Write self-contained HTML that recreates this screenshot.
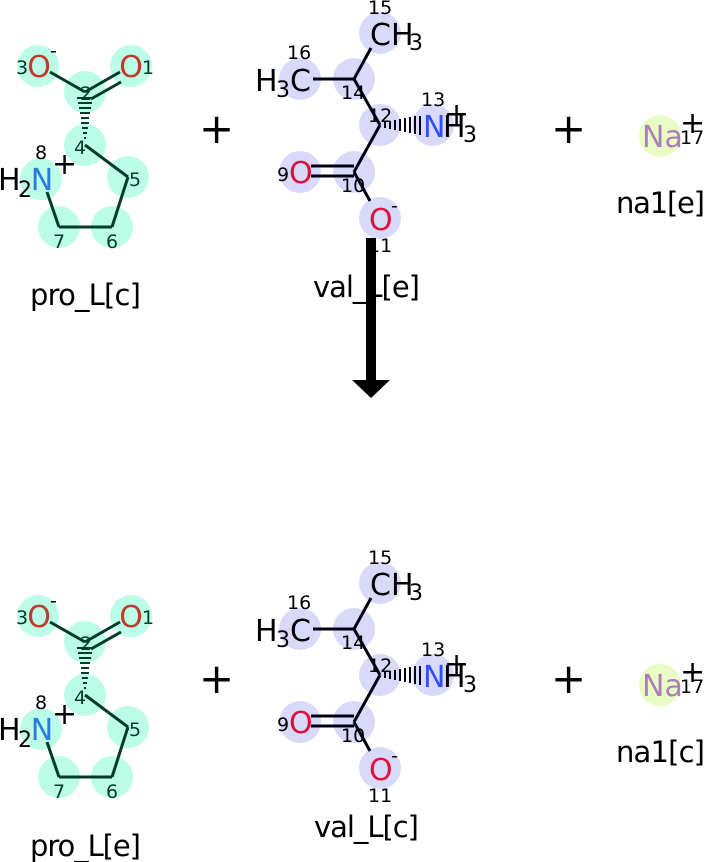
<!DOCTYPE html>
<html><head><meta charset="utf-8"><style>
html,body{margin:0;padding:0;background:#fff;width:704px;height:862px;overflow:hidden}
svg text{font-family:"DejaVu Sans","Liberation Sans",sans-serif}
.a{font-size:30px}.n{font-size:19px}.l{font-size:29px}.s{font-size:22px}
</style></head><body>
<svg width="704" height="862" viewBox="0 0 704 862" xmlns="http://www.w3.org/2000/svg">

<g id="top">
<g fill="#bbfde6">
<circle cx="38" cy="66" r="21"/><circle cx="131" cy="66" r="21"/><circle cx="85" cy="92" r="21"/><circle cx="85" cy="145" r="21"/><circle cx="41" cy="179" r="21"/><circle cx="128" cy="177" r="21"/><circle cx="59" cy="227" r="21"/><circle cx="112" cy="227" r="21"/>
</g>
<g stroke="#003c28" stroke-width="3" fill="none">
<line x1="50" y1="72" x2="85" y2="92"/>
<line x1="85" y1="92" x2="120" y2="72"/>
<line x1="91" y1="99" x2="121" y2="82"/>
<line x1="85" y1="145" x2="128" y2="177"/>
<line x1="128" y1="177" x2="112" y2="227"/>
<line x1="112" y1="227" x2="59" y2="227"/>
<line x1="59" y1="227" x2="47" y2="192"/>
</g>
<g stroke="#003c28" stroke-width="2">
<line x1="77" y1="98" x2="93" y2="98"/><line x1="78" y1="103" x2="92" y2="103"/><line x1="79" y1="108" x2="91" y2="108"/><line x1="80" y1="113" x2="90" y2="113"/><line x1="81" y1="118" x2="89" y2="118"/><line x1="81" y1="123" x2="89" y2="123"/><line x1="82" y1="128" x2="88" y2="128"/><line x1="83" y1="133" x2="87" y2="133"/><line x1="84" y1="138" x2="86" y2="138"/>
</g>
<text class="a" font-size="30" x="39" y="77" text-anchor="middle" fill="#c0392b">O</text><text class="n" font-size="19" x="16" y="74" fill="#003c28">3</text><text class="n" font-size="19" x="50" y="57" fill="#000">-</text>
<text class="a" font-size="30" x="131" y="77" text-anchor="middle" fill="#c0392b">O</text><text class="n" font-size="19" x="142" y="74" fill="#003c28">1</text>
<text class="n" font-size="19" x="80" y="100" fill="#003c28">2</text><text class="n" font-size="19" x="74" y="154" fill="#003c28">4</text>
<text class="a" font-size="30" x="42" y="190" text-anchor="middle" fill="#2a7ae2">N</text><text class="a" font-size="30" x="-2" y="190">H</text><text class="s" font-size="22" x="18" y="197">2</text><text class="n" font-size="19" x="35" y="159">8</text><text class="a" font-size="30" x="52" y="174">+</text>
<text class="n" font-size="19" x="129" y="186" fill="#003c28">5</text><text class="n" font-size="19" x="53" y="248" fill="#003c28">7</text><text class="n" font-size="19" x="106" y="248" fill="#003c28">6</text>
<text class="l" font-size="29" x="30" y="305" textLength="111">pro_L[c]</text>

<g fill="#d9daf9">
<circle cx="380" cy="33" r="21"/><circle cx="300" cy="79" r="21"/><circle cx="354" cy="79" r="21"/><circle cx="380" cy="125" r="21"/><circle cx="433" cy="125" r="21"/><circle cx="300" cy="172" r="21"/><circle cx="354" cy="172" r="21"/><circle cx="380" cy="218" r="21"/>
</g>
<g stroke="#000014" stroke-width="3" fill="none">
<line x1="371" y1="48" x2="354" y2="79"/>
<line x1="313" y1="79" x2="354" y2="79"/>
<line x1="354" y1="79" x2="380" y2="125"/>
<line x1="380" y1="125" x2="354" y2="172"/>
<line x1="311" y1="166" x2="354" y2="166"/><line x1="311" y1="176" x2="354" y2="176"/>
<line x1="354" y1="172" x2="370" y2="201"/>
</g>
<g stroke="#000014" stroke-width="2">
<line x1="385" y1="122" x2="385" y2="128"/><line x1="390" y1="121" x2="390" y2="129"/><line x1="395" y1="120" x2="395" y2="130"/><line x1="400" y1="119" x2="400" y2="131"/><line x1="405" y1="118" x2="405" y2="132"/><line x1="410" y1="117" x2="410" y2="133"/><line x1="415" y1="116" x2="415" y2="134"/><line x1="420" y1="116" x2="420" y2="135"/>
</g>
<text class="a" font-size="30" x="370" y="45">CH</text><text class="s" font-size="22" x="409" y="50">3</text><text class="n" font-size="19" x="368" y="14">15</text>
<text class="a" font-size="30" x="255" y="91">H</text><text class="s" font-size="22" x="276" y="97">3</text><text class="a" font-size="30" x="290" y="91">C</text><text class="n" font-size="19" x="287" y="59">16</text>
<text class="n" font-size="19" x="341" y="99">14</text><text class="n" font-size="19" x="368" y="122">12</text>
<text class="a" font-size="30" x="423" y="137" fill="#3050f8">N</text><text class="a" font-size="30" x="443" y="137">H</text><text class="s" font-size="22" x="463" y="142">3</text><text class="n" font-size="19" x="421" y="106">13</text><text class="a" font-size="30" x="444" y="124">+</text>
<text class="a" font-size="30" x="289" y="183" fill="#e0103c">O</text><text class="n" font-size="19" x="277" y="181">9</text><text class="n" font-size="19" x="341" y="192">10</text>
<text class="a" font-size="30" x="369" y="230" fill="#e0103c">O</text><text class="n" font-size="19" x="391" y="212">-</text><text class="n" font-size="19" x="368" y="252">11</text>
<text class="l" font-size="29" x="313" y="297" textLength="107">val_L[e]</text>

<circle cx="660" cy="136" r="21" fill="#eafcc6"/>
<text class="a" font-size="30" x="642" y="147" fill="#ab7fb8">Na</text><text class="n" font-size="19" x="680" y="144">17</text><text class="a" font-size="30" x="680" y="133">+</text>
<text class="l" font-size="29" x="616" y="213" textLength="89">na1[e]</text>

<text x="199" y="143" font-size="42">+</text>
<text x="551" y="143" font-size="42">+</text>
</g>

<rect x="366" y="238" width="10" height="144" fill="#000"/>
<polygon points="352,380 390,380 371,398" fill="#000"/>

<g transform="translate(0,550)">
<g fill="#bbfde6">
<circle cx="38" cy="66" r="21"/><circle cx="131" cy="66" r="21"/><circle cx="85" cy="92" r="21"/><circle cx="85" cy="145" r="21"/><circle cx="41" cy="179" r="21"/><circle cx="128" cy="177" r="21"/><circle cx="59" cy="227" r="21"/><circle cx="112" cy="227" r="21"/>
</g>
<g stroke="#003c28" stroke-width="3" fill="none">
<line x1="50" y1="72" x2="85" y2="92"/>
<line x1="85" y1="92" x2="120" y2="72"/>
<line x1="91" y1="99" x2="121" y2="82"/>
<line x1="85" y1="145" x2="128" y2="177"/>
<line x1="128" y1="177" x2="112" y2="227"/>
<line x1="112" y1="227" x2="59" y2="227"/>
<line x1="59" y1="227" x2="47" y2="192"/>
</g>
<g stroke="#003c28" stroke-width="2">
<line x1="77" y1="98" x2="93" y2="98"/><line x1="78" y1="103" x2="92" y2="103"/><line x1="79" y1="108" x2="91" y2="108"/><line x1="80" y1="113" x2="90" y2="113"/><line x1="81" y1="118" x2="89" y2="118"/><line x1="81" y1="123" x2="89" y2="123"/><line x1="82" y1="128" x2="88" y2="128"/><line x1="83" y1="133" x2="87" y2="133"/><line x1="84" y1="138" x2="86" y2="138"/>
</g>
<text class="a" font-size="30" x="39" y="77" text-anchor="middle" fill="#c0392b">O</text><text class="n" font-size="19" x="16" y="74" fill="#003c28">3</text><text class="n" font-size="19" x="50" y="57" fill="#000">-</text>
<text class="a" font-size="30" x="131" y="77" text-anchor="middle" fill="#c0392b">O</text><text class="n" font-size="19" x="142" y="74" fill="#003c28">1</text>
<text class="n" font-size="19" x="80" y="100" fill="#003c28">2</text><text class="n" font-size="19" x="74" y="154" fill="#003c28">4</text>
<text class="a" font-size="30" x="42" y="190" text-anchor="middle" fill="#2a7ae2">N</text><text class="a" font-size="30" x="-2" y="190">H</text><text class="s" font-size="22" x="18" y="197">2</text><text class="n" font-size="19" x="35" y="159">8</text><text class="a" font-size="30" x="52" y="174">+</text>
<text class="n" font-size="19" x="129" y="186" fill="#003c28">5</text><text class="n" font-size="19" x="53" y="248" fill="#003c28">7</text><text class="n" font-size="19" x="106" y="248" fill="#003c28">6</text>
<text class="l" font-size="29" x="30" y="306" textLength="111">pro_L[e]</text>

<g fill="#d9daf9">
<circle cx="380" cy="33" r="21"/><circle cx="300" cy="79" r="21"/><circle cx="354" cy="79" r="21"/><circle cx="380" cy="125" r="21"/><circle cx="433" cy="125" r="21"/><circle cx="300" cy="172" r="21"/><circle cx="354" cy="172" r="21"/><circle cx="380" cy="218" r="21"/>
</g>
<g stroke="#000014" stroke-width="3" fill="none">
<line x1="371" y1="48" x2="354" y2="79"/>
<line x1="313" y1="79" x2="354" y2="79"/>
<line x1="354" y1="79" x2="380" y2="125"/>
<line x1="380" y1="125" x2="354" y2="172"/>
<line x1="311" y1="166" x2="354" y2="166"/><line x1="311" y1="176" x2="354" y2="176"/>
<line x1="354" y1="172" x2="370" y2="201"/>
</g>
<g stroke="#000014" stroke-width="2">
<line x1="385" y1="122" x2="385" y2="128"/><line x1="390" y1="121" x2="390" y2="129"/><line x1="395" y1="120" x2="395" y2="130"/><line x1="400" y1="119" x2="400" y2="131"/><line x1="405" y1="118" x2="405" y2="132"/><line x1="410" y1="117" x2="410" y2="133"/><line x1="415" y1="116" x2="415" y2="134"/><line x1="420" y1="116" x2="420" y2="135"/>
</g>
<text class="a" font-size="30" x="370" y="45">CH</text><text class="s" font-size="22" x="409" y="50">3</text><text class="n" font-size="19" x="368" y="14">15</text>
<text class="a" font-size="30" x="255" y="91">H</text><text class="s" font-size="22" x="276" y="97">3</text><text class="a" font-size="30" x="290" y="91">C</text><text class="n" font-size="19" x="287" y="59">16</text>
<text class="n" font-size="19" x="341" y="99">14</text><text class="n" font-size="19" x="368" y="122">12</text>
<text class="a" font-size="30" x="423" y="137" fill="#3050f8">N</text><text class="a" font-size="30" x="443" y="137">H</text><text class="s" font-size="22" x="463" y="142">3</text><text class="n" font-size="19" x="421" y="106">13</text><text class="a" font-size="30" x="444" y="124">+</text>
<text class="a" font-size="30" x="289" y="183" fill="#e0103c">O</text><text class="n" font-size="19" x="277" y="181">9</text><text class="n" font-size="19" x="341" y="192">10</text>
<text class="a" font-size="30" x="369" y="230" fill="#e0103c">O</text><text class="n" font-size="19" x="391" y="212">-</text><text class="n" font-size="19" x="368" y="252">11</text>
<text class="l" font-size="29" x="314" y="287" textLength="105">val_L[c]</text>

<circle cx="660" cy="135" r="21" fill="#eafcc6"/>
<text class="a" font-size="30" x="642" y="146" fill="#ab7fb8">Na</text><text class="n" font-size="19" x="680" y="143">17</text><text class="a" font-size="30" x="680" y="132">+</text>
<text class="l" font-size="29" x="616" y="212" textLength="89">na1[c]</text>

<text x="199" y="143" font-size="42">+</text>
<text x="551" y="143" font-size="42">+</text>
</g>
</svg>
</body></html>
